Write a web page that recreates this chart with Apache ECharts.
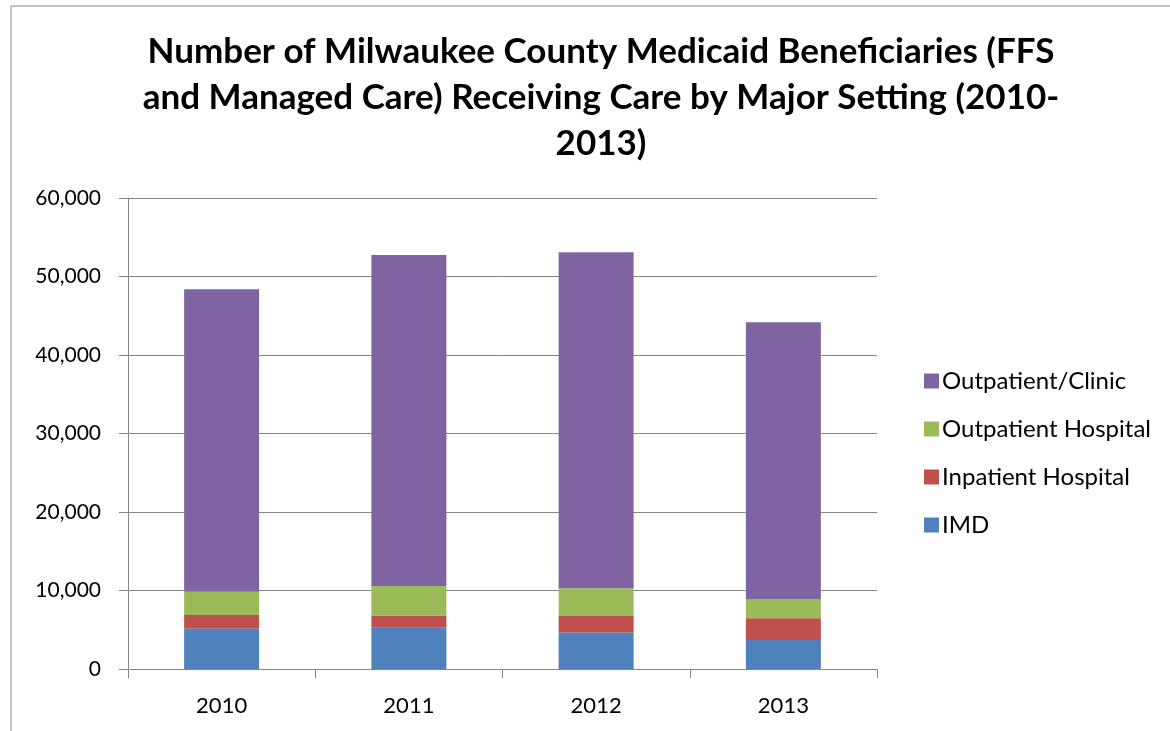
<!DOCTYPE html>
<html>
<head>
<meta charset="utf-8">
<script src="https://cdn.jsdelivr.net/npm/echarts@6/dist/echarts.min.js"></script>
<style>
  html, body { margin: 0; padding: 0; background: #fff; }
  #chart { width: 1170px; height: 731px; }
</style>
</head>
<body>
<div id="chart"></div>
<script>
// Datos
const years = ["2010", "2011", "2012", "2013"];
const imd = [5150, 5240, 4640, 3690];
const inpatientHospital = [1720, 1580, 2100, 2790];
const outpatientHospital = [2960, 3740, 3560, 2450];
const outpatientClinic = [38540, 42180, 42780, 35240];
const legendOrder = ["Outpatient/Clinic", "Outpatient Hospital", "Inpatient Hospital", "IMD"];

const fontName = "Lato";
const gridColor = "#868686";

const dom = document.getElementById("chart");
const myChart = echarts.init(dom, undefined, { renderer: "canvas" });

const makeSeries = (name, data, color) => ({
  name: name,
  type: "bar",
  stack: "total",
  barWidth: 75,
  itemStyle: { color: color },
  data: data
});

const option = {
  animation: false,
  title: {
    text: "Number of Milwaukee County Medicaid Beneficiaries (FFS\nand Managed Care) Receiving Care by Major Setting (2010-\n2013)",
    left: 596,
    textAlign: "center",
    top: 24,
    textStyle: {
      fontFamily: fontName,
      fontSize: 35,
      fontWeight: "bold",
      color: "#000",
      lineHeight: 46
    }
  },
  legend: {
    orient: "vertical",
    left: 919,
    top: 364,
    itemWidth: 15,
    itemHeight: 15,
    itemGap: 24,
    icon: "rect",
    data: legendOrder,
    textStyle: { fontFamily: fontName, fontSize: 24, color: "#000", padding: [0, 0, 0, -2] }
  },
  graphic: [{
    type: "rect",
    shape: { x: 11, y: 6, width: 1200, height: 760 },
    style: { fill: "none", stroke: gridColor, lineWidth: 1 },
    silent: true
  }],
  grid: { left: 128, right: 293, top: 198, bottom: 62 },
  xAxis: {
    type: "category",
    data: years,
    axisLine: { lineStyle: { color: gridColor, width: 1 } },
    axisTick: { show: true, length: 9, lineStyle: { color: gridColor } },
    axisLabel: { fontFamily: fontName, fontSize: 22, color: "#000", margin: 26 }
  },
  yAxis: {
    type: "value",
    min: 0,
    max: 60000,
    interval: 10000,
    axisLine: { show: true, lineStyle: { color: gridColor, width: 1 } },
    axisTick: { show: true, length: 9, lineStyle: { color: gridColor } },
    splitLine: { lineStyle: { color: gridColor, width: 1 } },
    axisLabel: {
      fontFamily: fontName,
      fontSize: 21,
      color: "#000",
      margin: 27,
      formatter: (v) => v.toLocaleString("en-US")
    }
  },
  series: [
    makeSeries("IMD", imd, "#4F81BD"),
    makeSeries("Inpatient Hospital", inpatientHospital, "#C0504D"),
    makeSeries("Outpatient Hospital", outpatientHospital, "#9BBB59"),
    makeSeries("Outpatient/Clinic", outpatientClinic, "#8064A2")
  ]
};

myChart.setOption(option);
</script>
</body>
</html>
